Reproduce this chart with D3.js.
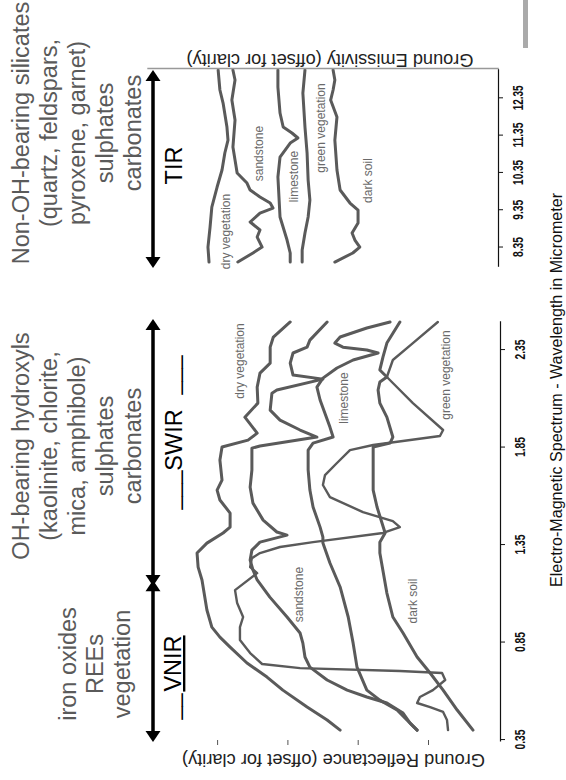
<!DOCTYPE html>
<html><head><meta charset="utf-8">
<script src="https://cdn.jsdelivr.net/npm/d3@7"></script>
<style>
html,body{margin:0;padding:0;background:#fff;}
svg{display:block;}
text{font-family:"Liberation Sans",Arial,sans-serif;}
</style></head><body>
<svg id="chart" width="566" height="780"></svg>
<script>
// ---------- DATA ----------
const reflWavelengthTicks = [0.35, 0.85, 1.35, 1.85, 2.35];
const emisWavelengthTicks = [8.35, 9.35, 10.35, 11.35, 12.35];
const reflValueTicks = [0.2, 0.4, 0.6, 0.8];

const seriesNames = ["dry vegetation", "sandstone", "limestone", "green vegetation", "dark soil"];

// Reflectance spectra [wavelength µm, relative reflectance (offset)]
const reflDryVegetation = [[0.401,0.450],[0.453,0.487],[0.519,0.544],[0.606,0.613],[0.673,0.658],[0.745,0.715],[0.827,0.763],[0.878,0.792],[0.929,0.815],[1.017,0.829],[1.171,0.843],[1.237,0.854],[1.309,0.857],[1.360,0.829],[1.412,0.783],[1.442,0.763],[1.514,0.763],[1.581,0.792],[1.632,0.800],[1.683,0.786],[1.786,0.792],[1.853,0.786],[1.888,0.712],[1.924,0.686],[2.006,0.721],[2.078,0.684],[2.160,0.686],[2.232,0.678],[2.283,0.649],[2.365,0.649],[2.417,0.640],[2.494,0.592]];
const reflSandstone = [[0.401,0.231],[0.437,0.251],[0.488,0.271],[0.540,0.317],[0.571,0.374],[0.606,0.430],[0.658,0.487],[0.724,0.536],[0.776,0.550],[0.847,0.556],[0.899,0.564],[0.981,0.601],[1.083,0.650],[1.171,0.686],[1.222,0.698],[1.273,0.706],[1.324,0.701],[1.365,0.678],[1.401,0.601],[1.417,0.630],[1.478,0.669],[1.565,0.698],[1.647,0.706],[1.735,0.701],[1.847,0.701],[1.858,0.678],[1.904,0.516],[1.940,0.564],[1.991,0.621],[2.042,0.649],[2.129,0.644],[2.145,0.630],[2.201,0.499],[2.222,0.584],[2.283,0.592],[2.335,0.584],[2.365,0.544],[2.401,0.536],[2.494,0.487]];
const reflLimestone = [[0.401,0.231],[0.453,0.260],[0.504,0.288],[0.555,0.337],[0.606,0.374],[0.724,0.402],[0.847,0.413],[0.981,0.427],[1.135,0.450],[1.258,0.479],[1.360,0.499],[1.391,0.499],[1.442,0.507],[1.545,0.527],[1.632,0.536],[1.735,0.541],[1.837,0.541],[1.873,0.527],[1.904,0.470],[1.955,0.479],[2.094,0.507],[2.160,0.516],[2.206,0.499],[2.258,0.459],[2.299,0.413],[2.335,0.342],[2.350,0.374],[2.365,0.442],[2.386,0.465],[2.417,0.450],[2.463,0.374],[2.494,0.308]];
const reflGreenVegetation = [[0.401,0.143],[0.453,0.146],[0.494,0.157],[0.519,0.194],[0.540,0.231],[0.571,0.223],[0.606,0.186],[0.658,0.151],[0.694,0.160],[0.704,0.280],[0.719,0.564],[0.740,0.672],[0.796,0.706],[0.863,0.735],[0.929,0.735],[0.981,0.726],[1.053,0.743],[1.119,0.749],[1.206,0.686],[1.237,0.706],[1.283,0.701],[1.309,0.678],[1.340,0.621],[1.365,0.527],[1.412,0.328],[1.442,0.280],[1.473,0.300],[1.519,0.385],[1.596,0.479],[1.658,0.499],[1.709,0.493],[1.771,0.459],[1.837,0.422],[1.863,0.356],[1.909,0.166],[1.940,0.157],[2.078,0.243],[2.181,0.300],[2.212,0.317],[2.299,0.300],[2.386,0.243],[2.494,0.172]];
const reflDarkSoil = [[0.401,0.072],[0.504,0.117],[0.606,0.157],[0.694,0.194],[0.776,0.231],[0.899,0.271],[0.981,0.300],[1.104,0.317],[1.309,0.337],[1.365,0.337],[1.412,0.322],[1.545,0.345],[1.632,0.356],[1.735,0.356],[1.853,0.356],[1.873,0.308],[1.904,0.300],[2.006,0.317],[2.078,0.337],[2.145,0.342],[2.186,0.337],[2.212,0.317],[2.248,0.337],[2.315,0.328],[2.386,0.317],[2.494,0.280]];

// Emissivity spectra [wavelength µm, relative emissivity (offset)]
const emisDryVegetation = [[7.961,0.823],[8.363,0.826],[8.900,0.820],[9.436,0.815],[9.972,0.800],[10.428,0.786],[10.884,0.778],[11.232,0.769],[11.581,0.772],[12.224,0.783],[12.573,0.792],[13.109,0.797]];
const emisSandstone = [[7.961,0.741],[8.203,0.698],[8.363,0.672],[8.631,0.686],[8.819,0.678],[9.034,0.706],[9.275,0.678],[9.409,0.641],[9.543,0.649],[9.704,0.678],[9.892,0.706],[10.079,0.715],[10.348,0.743],[10.696,0.749],[11.044,0.755],[11.768,0.749],[12.304,0.758],[12.841,0.749],[13.109,0.755]];
const emisLimestone = [[7.961,0.592],[8.203,0.592],[8.551,0.601],[9.168,0.621],[10.240,0.627],[10.776,0.621],[11.152,0.592],[11.286,0.570],[11.420,0.587],[11.581,0.612],[11.956,0.621],[12.653,0.627],[13.109,0.627]];
const emisGreenVegetation = [[7.961,0.558],[8.283,0.558],[8.739,0.550],[9.168,0.541],[9.623,0.536],[10.160,0.541],[10.884,0.544],[11.581,0.550],[12.492,0.556],[13.109,0.550]];
const emisDarkSoil = [[7.961,0.465],[8.203,0.414],[8.363,0.394],[8.551,0.408],[8.739,0.416],[9.007,0.399],[9.355,0.399],[9.543,0.422],[9.892,0.450],[10.428,0.459],[11.232,0.465],[11.849,0.459],[12.304,0.477],[12.573,0.470],[12.841,0.465],[13.109,0.470]];

// label anchors in data units [wavelength, value]
const reflLabelAt = [[2.294,0.723],[1.096,0.556],[2.104,0.428],[2.222,0.137],[1.063,0.231]];
const emisLabelAt = [[8.779,0.763],[10.870,0.669],[10.254,0.570],[11.554,0.493],[10.146,0.360]];

// spectral regions (arrows)
const regionNames = ["VNIR", "SWIR", "TIR"];
const regionStart = [0.34, 1.14, 7.80];
const regionEnd = [1.17, 2.509, 13.11];

const nonOhLines = ["Non-OH-bearing silicates", "(quartz, feldspars,", "pyroxene, garnet)", "sulphates", "carbonates"];
const ohLines = ["OH-bearing hydroxyls", "(kaolinite, chlorite,", "mica, amphibole)", "sulphates", "carbonates"];
const ironLines = ["iron oxides", "REEs", "vegetation"];

// ---------- DRAW ----------
const svg = d3.select("#chart");
// stray grey bar top-right
svg.append("rect").attr("x", 523).attr("y", 0).attr("width", 5).attr("height", 48).attr("fill", "#aaa");

// whole figure is a landscape chart turned 90° counter-clockwise
const g = svg.append("g").attr("transform", "translate(0,780) rotate(-90)");

const wScale = d3.scaleLinear().domain([0.34, 2.495]).range([38, 458.2]);
const tScale = d3.scaleLinear().domain([7.82, 13.12]).range([512.7, 710.4]);
const vScale = d3.scaleLinear().domain([0, 1]).range([498.3, 146.8]);

const curveColor = "#5a5a5a";
const reflSeries = [reflDryVegetation, reflSandstone, reflLimestone, reflGreenVegetation, reflDarkSoil];
const emisSeries = [emisDryVegetation, emisSandstone, emisLimestone, emisGreenVegetation, emisDarkSoil];

const reflLine = d3.line().x(d => wScale(d[0])).y(d => vScale(d[1]));
const emisLine = d3.line().x(d => tScale(d[0])).y(d => vScale(d[1]));

g.selectAll("path.refl").data(reflSeries).join("path")
  .attr("class", "refl").attr("d", reflLine)
  .attr("fill", "none").attr("stroke", curveColor)
  .attr("stroke-width", (d, i) => i === 3 ? 2.4 : 3)
  .attr("stroke-linejoin", "round").attr("stroke-linecap", "round");

g.selectAll("path.emis").data(emisSeries).join("path")
  .attr("class", "emis").attr("d", emisLine)
  .attr("fill", "none").attr("stroke", curveColor)
  .attr("stroke-width", 3)
  .attr("stroke-linejoin", "round").attr("stroke-linecap", "round");

// curve labels
g.selectAll("text.rl").data(seriesNames).join("text").attr("class", "rl")
  .attr("x", (d, i) => wScale(reflLabelAt[i][0]))
  .attr("y", (d, i) => vScale(reflLabelAt[i][1]))
  .attr("text-anchor", "middle").attr("font-size", 12).attr("fill", "#6a6a6a").text(d => d);
g.selectAll("text.el").data(seriesNames).join("text").attr("class", "el")
  .attr("x", (d, i) => tScale(emisLabelAt[i][0]))
  .attr("y", (d, i) => vScale(emisLabelAt[i][1]))
  .attr("text-anchor", "middle").attr("font-size", 12).attr("fill", "#6a6a6a").text(d => d);

// wavelength axes
function styleAxis(sel, labelY) {
  sel.select(".domain").attr("stroke", "#111").attr("stroke-width", 1.2);
  sel.selectAll(".tick line").attr("stroke", "#111");
  sel.selectAll(".tick text").attr("y", labelY).attr("font-size", 14).attr("font-weight", "bold")
    .attr("font-family", "'Liberation Sans Narrow','Liberation Sans',Arial,sans-serif")
    .attr("fill", "#111")
    .attr("textLength", function () { return this.textContent.length * 5; })
    .attr("lengthAdjust", "spacingAndGlyphs");
}
const ax1 = g.append("g").attr("transform", "translate(0,500)")
  .call(d3.axisBottom(wScale).tickValues(reflWavelengthTicks).tickSize(5).tickSizeOuter(0).tickFormat(d3.format(".2f")));
styleAxis(ax1, 15);
const ax2 = g.append("g").attr("transform", "translate(0,498)")
  .call(d3.axisBottom(tScale).tickValues(emisWavelengthTicks).tickSize(5).tickSizeOuter(0).tickFormat(d3.format(".2f")));
styleAxis(ax2, 15);

// reflectance value ticks (no labels, no line)
const ay = g.append("g").attr("transform", "translate(40,0)")
  .call(d3.axisLeft(vScale).tickValues(reflValueTicks).tickSize(5).tickSizeOuter(0).tickFormat(""));
ay.select(".domain").remove();
ay.selectAll(".tick line").attr("stroke", "#555");

// emissivity axis line
const ae = g.append("g").attr("transform", "translate(711,0)")
  .call(d3.axisLeft(vScale.copy().domain([vScale.invert(497), vScale.invert(183)])).tickValues([]).tickSizeOuter(0));
ae.select(".domain").attr("stroke", "#999").attr("stroke-width", 1.6);

// axis titles
g.append("text").attr("x", 390).attr("y", 562).attr("text-anchor", "middle")
  .attr("font-size", 16.5).attr("fill", "#111")
  .attr("textLength", 394).attr("lengthAdjust", "spacingAndGlyphs")
  .text("Electro-Magnetic Spectrum - Wavelength in Micrometer");
g.append("text").attr("transform", "translate(26,333.5) rotate(-90)").attr("text-anchor", "middle")
  .attr("font-size", 17.5).attr("fill", "#222")
  .attr("textLength", 303).attr("lengthAdjust", "spacingAndGlyphs")
  .text("Ground Reflectance  (offset for clarity)");
g.append("text").attr("transform", "translate(726,330) rotate(-90)").attr("text-anchor", "middle")
  .attr("font-size", 17.5).attr("fill", "#222")
  .attr("textLength", 287).attr("lengthAdjust", "spacingAndGlyphs")
  .text("Ground Emissivity  (offset for clarity)");

// arrows
const arrowV = 153, headL = 11, headW = 7.5;
const regionScale = [wScale, wScale, tScale];
regionNames.forEach((name, i) => {
  const u1 = regionScale[i](regionStart[i]), u2 = regionScale[i](regionEnd[i]);
  g.append("line").attr("x1", u1 + 6).attr("x2", u2 - 6).attr("y1", arrowV).attr("y2", arrowV)
    .attr("stroke", "#000").attr("stroke-width", 3.5);
  g.append("path").attr("d", `M${u2},${arrowV}L${u2 - headL},${arrowV - headW}L${u2 - headL},${arrowV + headW}Z`).attr("fill", "#000");
  g.append("path").attr("d", `M${u1},${arrowV}L${u1 + headL},${arrowV - headW}L${u1 + headL},${arrowV + headW}Z`).attr("fill", "#000");
});

// region labels
const labFont = 23.5;
g.append("text").attr("x", 614.5).attr("y", 182).attr("text-anchor", "middle").attr("font-size", labFont).text(regionNames[2]);
g.append("text").attr("x", 340).attr("y", 182).attr("text-anchor", "middle").attr("font-size", labFont).text(regionNames[1]);
g.append("text").attr("x", 290).attr("y", 178).attr("text-anchor", "middle").attr("font-size", labFont).text("___");
g.append("text").attr("x", 405).attr("y", 178).attr("text-anchor", "middle").attr("font-size", labFont).text("___");
g.append("text").attr("x", 116.5).attr("y", 181).attr("text-anchor", "middle").attr("font-size", labFont)
  .attr("text-decoration", "underline").text(regionNames[0]);
g.append("text").attr("x", 73.5).attr("y", 178).attr("text-anchor", "middle").attr("font-size", labFont).text("__");

// descriptive text blocks
function block(lines, cu, baselines) {
  g.append("g").selectAll("text").data(lines).join("text")
    .attr("x", cu).attr("y", (d, i) => baselines[i])
    .attr("text-anchor", "middle").attr("font-size", 23.5).attr("fill", "#5a5a5a").text(d => d);
}
block(nonOhLines, 647, [29, 57, 85, 113, 141]);
block(ohLines, 334, [29, 57, 85, 113, 141]);
block(ironLines, 116, [76, 103, 130]);
</script>
</body></html>
